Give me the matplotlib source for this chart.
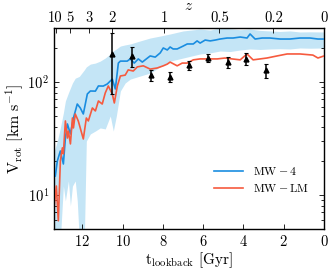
import matplotlib
matplotlib.use('Agg')
import matplotlib.pyplot as plt
import numpy as np

# %% Data
# MW-4 (blue line)
t_mw4 = [13.34, 13.24, 13.09, 12.94, 12.84, 12.74, 12.59, 12.44, 12.25, 12.10,
         11.95, 11.75, 11.60, 11.35, 11.20, 10.96, 10.76, 10.61, 10.51, 10.36,
         10.21, 10.11, 9.97, 9.77, 9.62, 9.42, 9.22, 9.02, 8.82, 8.63,
         8.38, 8.13, 7.98, 7.78, 7.64, 7.49, 7.29, 6.99, 6.79, 6.49,
         6.30, 6.15, 5.90, 5.65, 5.40, 5.16, 4.81, 4.51, 4.16, 3.82,
         3.67, 3.42, 3.07, 2.68, 2.18, 1.69, 1.19, 0.69, 0.30, 0.00]
v_mw4 = [14.7, 20.0, 24.5, 18.8, 31.9, 42.5, 34.7, 48.0, 63.8, 58.9,
         52.1, 78.3, 83.2, 83.0, 92.2, 92.0, 96.0, 102, 106, 86.7,
         147, 153, 153, 153, 160, 147, 160, 150, 160, 170,
         166, 181, 200, 192, 204, 196, 196, 208, 217, 217,
         231, 221, 235, 231, 235, 240, 245, 245, 250, 245,
         266, 240, 245, 245, 240, 240, 245, 245, 240, 240]

# MW-LM (red line)
t_mwlm = [13.39, 13.29, 13.19, 13.09, 12.99, 12.94, 12.84, 12.74, 12.69, 12.59,
          12.49, 12.44, 12.35, 12.20, 11.95, 11.80, 11.70, 11.50, 11.35, 11.20,
          11.01, 10.86, 10.71, 10.51, 10.41, 10.26, 10.11, 9.87, 9.72, 9.47,
          9.27, 8.97, 8.63, 8.28, 7.98, 7.78, 7.64, 7.29, 7.04, 6.79,
          6.49, 6.15, 5.80, 5.30, 4.91, 4.56, 4.16, 3.82, 3.52, 3.17,
          2.83, 2.33, 1.83, 1.19, 0.55, 0.30, 0.00]
v_mwlm = [8.0, 12.0, 5.9, 20.0, 26.1, 23.1, 45.2, 31.9, 36.8, 28.3,
          48.0, 39.2, 52.1, 45.2, 31.3, 48.0, 45.2, 58.9, 55.4, 67.9,
          63.8, 80.0, 92.2, 78.3, 65.2, 92.2, 113, 115, 128, 125,
          136, 139, 130, 133, 139, 144, 150, 139, 147, 147,
          157, 160, 160, 160, 163, 160, 157, 177, 157, 160,
          163, 170, 177, 177, 173, 163, 170]

# MW-4 scatter band
t_band = [13.39, 13.24, 13.09, 12.94, 12.84, 12.69, 12.59, 12.49, 12.35, 12.25,
          12.15, 11.90, 11.80, 11.60, 11.35, 11.11, 10.86, 10.61, 10.46, 10.31,
          10.11, 9.87, 9.62, 9.12, 8.63, 8.13, 7.64, 6.99, 6.15, 5.65,
          5.16, 4.66, 4.16, 3.67, 3.17, 2.68, 2.18, 1.69, 1.19, 0.69, 0.00]
band_hi = [24.5, 30.0, 39.2, 53.2, 67.9, 80.0, 88.5, 98, 108, 110,
           112, 128, 136, 144, 147, 153, 163, 177, 188, 196,
           208, 213, 217, 231, 245, 255, 266, 283, 294, 288,
           301, 296, 290, 294, 286, 283, 280, 283, 277, 278, 277]
band_lo = [4.0, 4.0, 4.0, 12.0, 8.85, 13.3, 8.0, 12.0, 13.3, 8.85,
           4.0, 4.0, 30.0, 34.7, 36.8, 39.2, 38.4, 50, 36.8, 50,
           83.2, 98, 106, 113, 120, 136, 153, 163, 177, 181,
           188, 186, 192, 196, 194, 196, 197, 196, 200, 199, 200]

# Observations
t_obs = [10.51, 9.55, 8.59, 7.63, 6.69, 5.75, 4.79, 3.85, 2.89]
v_obs = [176, 170, 115, 111, 140, 163, 150, 160, 127]
v_err = [97, 35, 12, 12, 13, 14, 17, 20, 18]

# Redshift ticks for top axis
z_ticks = [10, 5, 3, 2, 1, 0.5, 0.2, 0]
z_labels = ['10', '5', '3', '2', '1', '0.5', '0.2', '0']


# %% Lookback time (flat LCDM, Planck 2015)
def lookback(z, H0=67.74, Om=0.3089):
    if z == 0:
        return 0.0
    zz = np.linspace(0, z, 2000)
    Ez = np.sqrt(Om * (1 + zz)**3 + (1 - Om))
    th = 977.8 / H0  # Hubble time in Gyr
    return th * np.trapezoid(1.0 / ((1 + zz) * Ez), zz)


# %% Style
plt.rcParams['font.family'] = 'serif'
plt.rcParams['font.serif'] = ['cmr10']
plt.rcParams['mathtext.fontset'] = 'cm'
plt.rcParams['axes.formatter.use_mathtext'] = True
plt.rcParams['axes.unicode_minus'] = False

blue = '#1a8de0'
red = '#f65a3e'
shade = '#c4e5f6'

# %% Plot
fig = plt.figure(figsize=(3.34, 2.70), dpi=100)
ax = fig.add_axes([0.162, 0.152, 0.808, 0.744])

ax.fill_between(t_band, band_lo, band_hi, color=shade, lw=0, zorder=1)
ax.plot(t_mw4, v_mw4, color=blue, lw=1.2, label=r'$\mathrm{MW-4}$', zorder=3)
ax.plot(t_mwlm, v_mwlm, color=red, lw=1.2, label=r'$\mathrm{MW-LM}$', zorder=3)
ax.errorbar(t_obs, v_obs, yerr=v_err, fmt='^', color='black', ms=3.5,
            elinewidth=1.1, capsize=1.5, capthick=0.8, zorder=4)

ax.set_yscale('log')
ax.set_xlim(13.4, 0)
ax.set_ylim(5, 300)
ax.set_xticks([12, 10, 8, 6, 4, 2, 0])
ax.set_xlabel(r'$\mathrm{t_{lookback}\ [Gyr]}$', fontsize=11, labelpad=1)
ax.set_ylabel(r'$\mathrm{V_{rot}\ [km\ s^{-1}]}$', fontsize=11.5, labelpad=1)
ax.tick_params(which='both', direction='in', top=False, right=True,
               labelsize=10.5, width=0.6)
ax.tick_params(which='major', length=3.5)
ax.tick_params(which='minor', length=2)
for s in ax.spines.values():
    s.set_linewidth(1.0)
    s.set_color('#333333')

# top redshift axis
axt = ax.twiny()
axt.set_xlim(ax.get_xlim())
axt.set_xticks([lookback(z) for z in z_ticks])
axt.set_xticklabels(z_labels)
axt.tick_params(direction='in', length=3.5, width=0.6, labelsize=10.5, pad=2)
axt.set_xlabel(r'$z$', fontsize=11, labelpad=1)

ax.legend(loc='lower right', bbox_to_anchor=(0.985, 0.12), frameon=False,
          fontsize=8.5, handlelength=2.4, handletextpad=0.9, labelspacing=0.45)

fig.savefig('out.png', dpi=100)
